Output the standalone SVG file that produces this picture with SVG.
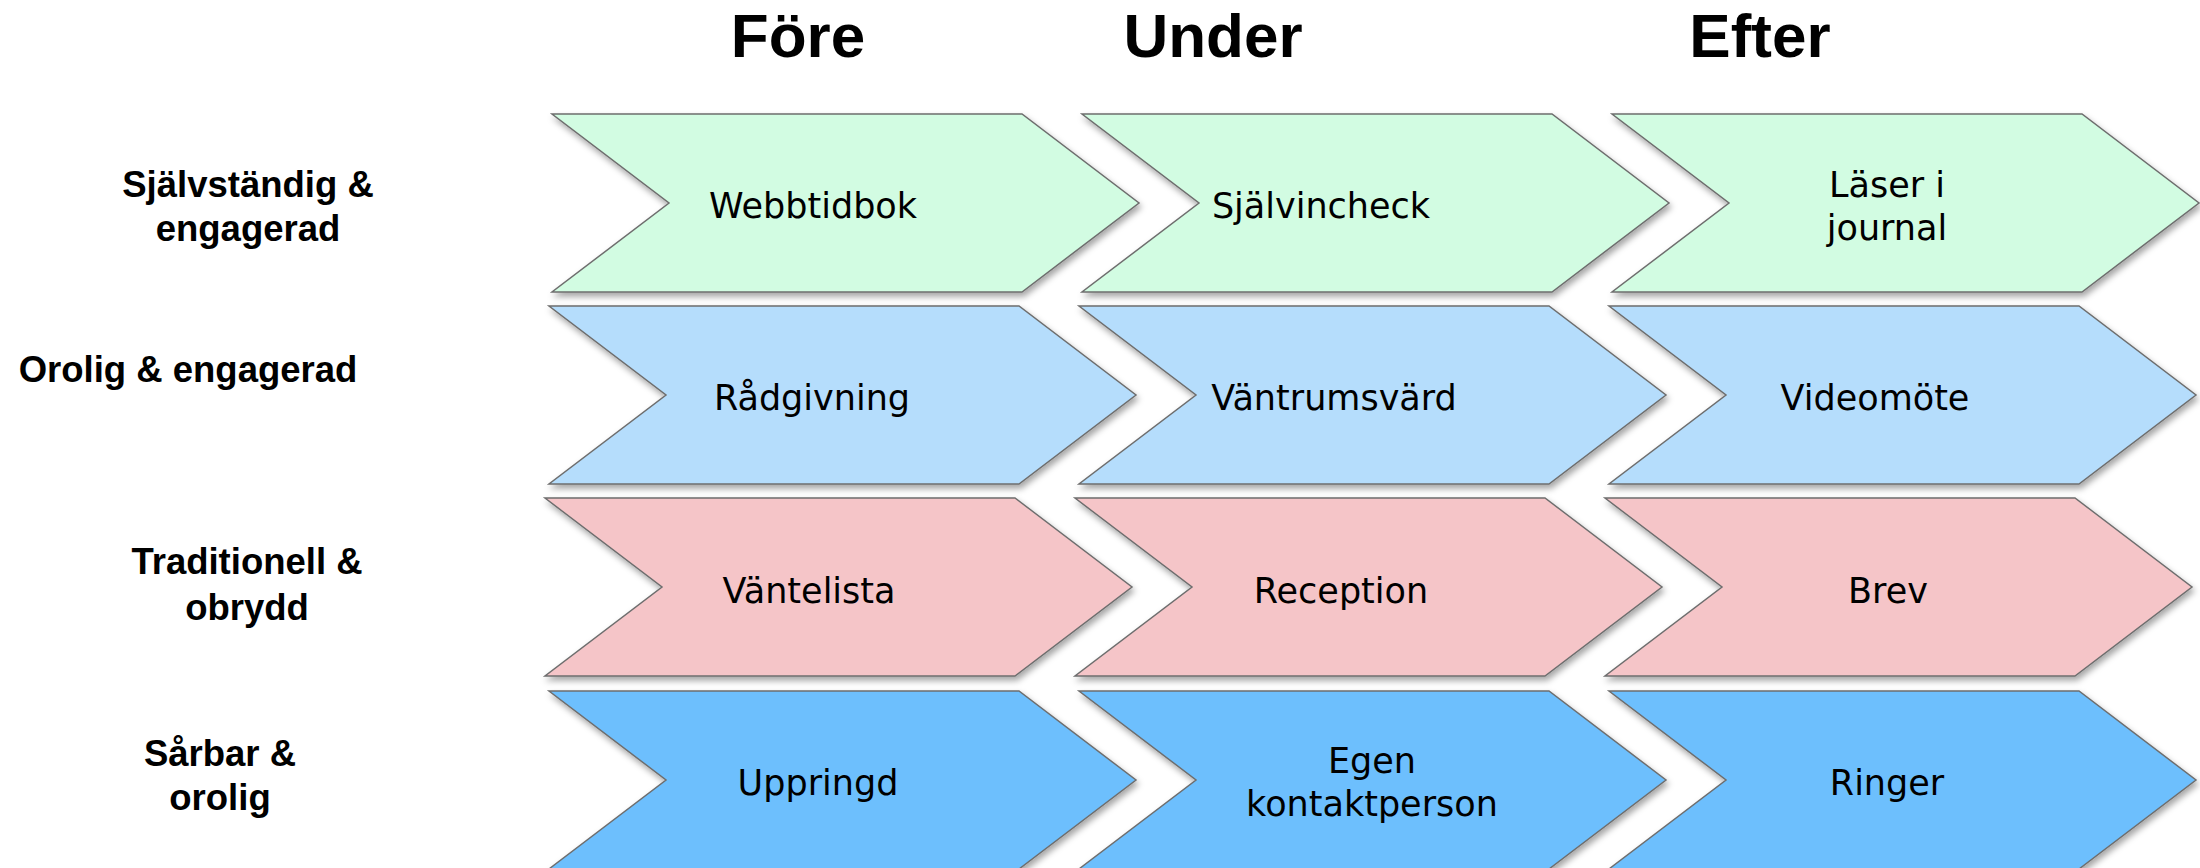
<svg xmlns="http://www.w3.org/2000/svg" width="2200" height="868" viewBox="0 0 2200 868">
<defs>
<filter id="sh" x="-5%" y="-10%" width="115%" height="130%">
<feDropShadow dx="2" dy="4" stdDeviation="3" flood-color="#000" flood-opacity="0.35"/>
</filter>
<path id="chev" d="M0,0 H470 L587,89 L470,178 H0 L117,89 Z"/>
</defs>
<style>
.hdr{font-family:"Liberation Sans",Arial,sans-serif;font-weight:bold;font-size:62px;fill:#000;text-anchor:middle}
.lbl{font-family:"Liberation Sans",Arial,sans-serif;font-weight:bold;font-size:36.5px;fill:#000;text-anchor:middle}
.txt{font-family:"DejaVu Sans",Verdana,sans-serif;font-size:35px;fill:#000;text-anchor:middle}
.c{stroke:#6e6e6e;stroke-width:1.5;filter:url(#sh)}
.g{fill:#d2fce2}.lb{fill:#b5ddfc}.p{fill:#f5c5c8}.b{fill:#6dbffd}
</style>
<rect width="2200" height="868" fill="#fff"/>
<g id="headers">
<text class="hdr" x="798" y="57">Före</text>
<text class="hdr" x="1213" y="57">Under</text>
<text class="hdr" x="1760" y="57">Efter</text>
</g>
<g id="row-labels">
<text class="lbl" x="248" y="197">Självständig &amp;</text>
<text class="lbl" x="248" y="241">engagerad</text>
<text class="lbl" x="188" y="382">Orolig &amp; engagerad</text>
<text class="lbl" x="247" y="574">Traditionell &amp;</text>
<text class="lbl" x="247" y="620">obrydd</text>
<text class="lbl" x="220" y="766">Sårbar &amp;</text>
<text class="lbl" x="220" y="810">orolig</text>
</g>
<g id="connectors"></g>
<g id="r1c1"><use href="#chev" class="c g" x="552" y="114"/><text class="txt" x="813" y="218">Webbtidbok</text></g>
<g id="r1c2"><use href="#chev" class="c g" x="1082" y="114"/><text class="txt" x="1321" y="218">Självincheck</text></g>
<g id="r1c3"><use href="#chev" class="c g" x="1612" y="114"/><text class="txt" x="1887" y="197">Läser i</text><text class="txt" x="1887" y="240">journal</text></g>
<g id="r2c1"><use href="#chev" class="c lb" x="549" y="306"/><text class="txt" x="812" y="410">Rådgivning</text></g>
<g id="r2c2"><use href="#chev" class="c lb" x="1079" y="306"/><text class="txt" x="1334" y="410">Väntrumsvärd</text></g>
<g id="r2c3"><use href="#chev" class="c lb" x="1609" y="306"/><text class="txt" x="1875" y="410">Videomöte</text></g>
<g id="r3c1"><use href="#chev" class="c p" x="545" y="498"/><text class="txt" x="809" y="603">Väntelista</text></g>
<g id="r3c2"><use href="#chev" class="c p" x="1075" y="498"/><text class="txt" x="1341" y="603">Reception</text></g>
<g id="r3c3"><use href="#chev" class="c p" x="1605" y="498"/><text class="txt" x="1888" y="603">Brev</text></g>
<g id="r4c1"><use href="#chev" class="c b" x="549" y="691"/><text class="txt" x="818" y="795">Uppringd</text></g>
<g id="r4c2"><use href="#chev" class="c b" x="1079" y="691"/><text class="txt" x="1372" y="773">Egen</text><text class="txt" x="1372" y="816">kontaktperson</text></g>
<g id="r4c3"><use href="#chev" class="c b" x="1609" y="691"/><text class="txt" x="1887" y="795">Ringer</text></g>
</svg>
